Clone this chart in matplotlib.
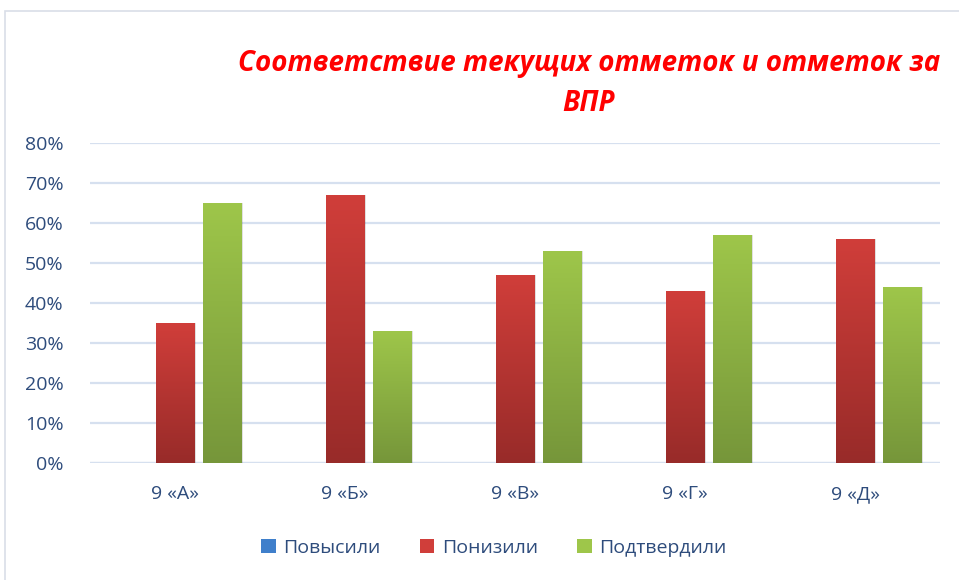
import matplotlib
matplotlib.use("Agg")
import matplotlib.pyplot as plt
import numpy as np
from matplotlib.colors import LinearSegmentedColormap
from matplotlib.patches import Rectangle, Patch

categories = ["9 «А»", "9 «Б»", "9 «В»", "9 «Г»", "9 «Д»"]
series = ["Повысили", "Понизили", "Подтвердили"]
povysili = [0, 0, 0, 0, 0]
ponizili = [35, 67, 47, 43, 56]
podtverdili = [65, 33, 53, 57, 44]
yticks = [0, 10, 20, 30, 40, 50, 60, 70, 80]

# (top colour, bottom colour) for each series
grads = [("#3F7FCB", "#2B5C99"), ("#D03E3A", "#982B29"), ("#9EC64A", "#76963A")]
text_col = "#2E4C7C"
grid_col = "#D6E0EF"

plt.rcParams["font.family"] = ["Open Sans", "DejaVu Sans"]

fig = plt.figure(figsize=(9.59, 5.80), dpi=100)
ax = fig.add_axes([90 / 959, 117 / 580, 850 / 959, 320 / 580])

# chart frame
fig.patches.append(Rectangle((5 / 959, -0.1), 1.2, (580 - 11) / 580 + 0.1,
                             transform=fig.transFigure, fill=False,
                             edgecolor="#D9DEE8", lw=1.2, zorder=0))

x = np.arange(len(categories))
w = 0.225
offs = [-0.275, 0.0, 0.275]
data = [povysili, ponizili, podtverdili]

grad = np.linspace(0, 1, 256).reshape(-1, 1)
for vals, off, (top, bot) in zip(data, offs, grads):
    cmap = LinearSegmentedColormap.from_list("g", [bot, top])
    bars = ax.bar(x + off, vals, w, color=top, edgecolor="none", zorder=3)
    for b in bars:
        h = b.get_height()
        if h <= 0:
            continue
        # soft shadow
        ax.add_patch(Rectangle((b.get_x() + 0.012, -0.4), b.get_width(), h + 0.4,
                               color="#000000", alpha=0.12, lw=0, zorder=2))
        im = ax.imshow(grad, cmap=cmap, aspect="auto", origin="lower",
                       extent=(b.get_x(), b.get_x() + b.get_width(), 0, h), zorder=4)
        im.set_clip_path(b)

ax.set_xlim(-0.5, len(categories) - 0.5)
ax.set_ylim(0, 80)
ax.set_yticks(yticks)
ax.set_yticklabels([f"{v}%" for v in yticks])
ax.set_xticks(x)
ax.set_xticklabels(categories)
ax.tick_params(axis="both", length=0, colors=text_col, labelsize=14)
ax.tick_params(axis="y", pad=19)
ax.tick_params(axis="x", pad=16)
for s in ax.spines.values():
    s.set_visible(False)
ax.grid(axis="y", color=grid_col, lw=1.6, zorder=1)
ax.axhline(0, color=grid_col, lw=1.6, zorder=1)
ax.set_axisbelow(True)

fig.text(0.614, 0.856, "Соответствие текущих отметок и отметок за\nВПР",
         ha="center", va="center", color="#FF0000", fontsize=20,
         fontweight="bold", fontstyle="italic", linespacing=1.5)

handles = [Patch(facecolor=g[0], edgecolor="none") for g in grads]
fig.legend(handles, series, loc="center", bbox_to_anchor=(0.515, 0.055), ncol=3,
           frameon=False, fontsize=14, labelcolor=text_col, handlelength=0.75,
           handleheight=0.75, handletextpad=0.4, columnspacing=2.0)

fig.savefig("out.png", dpi=100)
